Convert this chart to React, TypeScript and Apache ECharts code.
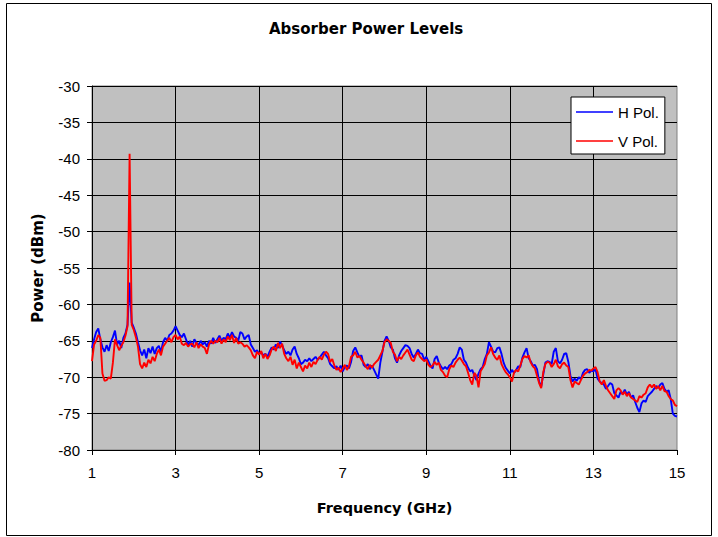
import React, { useEffect, useRef } from "react";
import * as echarts from "echarts";

const titleText = "Absorber Power Levels";
const xAxisTitle = "Frequency (GHz)";
const yAxisTitle = "Power (dBm)";
const seriesNames = ["H Pol.", "V Pol."];
const seriesColors = ["#0000FF", "#FF0000"];

// frequency grid of the traces (GHz)
const freqStartGHz = 1;
const freqEndGHz = 15;
const freqStepGHz = 0.05;
const freqTickStep = 2;

const powerMin = -80;
const powerMax = -30;
const powerStep = 5;

// H Pol. trace, dBm, one value per 0.05 GHz from 1 to 15 GHz
const hPol = [
  -66.0, -64.8, -63.8, -63.3, -64.8, -65.9, -66.5, -65.6, -66.4, -65.2,
  -64.5, -63.6, -65.5, -65.0, -66.0, -64.6, -64.0, -62.8, -57.0, -62.5,
  -63.2, -64.0, -65.2, -66.3, -67.0, -66.2, -67.4, -66.0, -66.7, -65.8,
  -66.8, -66.0, -65.7, -66.5, -65.2, -64.6, -65.0, -64.2, -64.0, -63.6,
  -63.0,
  -63.6, -64.2, -64.5, -64.0, -64.8, -65.6, -65.0, -65.8, -64.8, -65.3,
  -65.6, -65.0, -65.5, -65.2, -65.8, -65.0, -65.4, -64.6, -65.3, -64.8,
  -64.3, -65.0, -64.6, -64.8, -64.0, -64.6, -63.8, -64.4, -64.6, -65.0,
  -63.8, -64.0, -64.8, -64.4, -64.2, -65.5, -66.0, -66.5, -66.3, -66.8,
  -66.6, -67.0, -66.8, -67.2, -66.5, -65.9, -66.2, -65.5, -66.0, -65.1,
  -65.6, -66.3, -66.8, -66.5, -67.0, -66.2, -65.8, -66.8, -67.4, -68.2,
  -68.0, -67.6, -67.8, -67.4, -67.8, -67.5, -67.2, -67.6, -67.3, -66.9,
  -66.5, -67.0, -67.4, -68.2, -68.5, -68.8, -68.5, -69.0, -68.4, -69.2,
  -68.6, -68.4, -68.8, -67.9, -66.4, -65.9, -66.6, -67.2, -67.0, -68.3,
  -68.6, -68.2, -68.9, -68.4, -69.0, -69.6, -70.2, -68.0, -66.5, -65.0,
  -64.4, -65.0, -65.9, -66.2, -67.4, -68.0, -67.0, -66.4, -66.0, -65.6,
  -65.7, -66.0, -66.8, -67.3, -66.8, -66.2, -66.7, -66.8, -67.6, -67.2,
  -67.8, -68.4, -68.8, -67.5, -67.1, -68.0, -68.5, -68.9, -68.6, -68.9,
  -68.4, -68.2, -67.6, -67.4, -66.8, -65.9, -66.2, -67.6, -68.0, -68.7,
  -69.2, -69.0, -69.8, -70.4, -69.5, -68.9, -68.6, -67.5, -66.8, -65.2,
  -65.8, -66.5, -66.6, -66.0, -65.9, -66.8, -68.0, -68.7, -69.1, -69.5,
  -69.0, -69.4, -69.0, -68.5, -68.6, -67.3, -66.6, -66.0, -67.4, -67.8,
  -68.4, -68.3, -68.9, -70.6, -71.3, -69.6, -68.0, -67.8, -67.9, -68.2,
  -66.5, -66.0, -67.8, -68.1, -67.6, -66.8, -66.7, -67.9, -69.8, -70.6,
  -70.2, -70.5, -70.0, -70.3, -69.4, -69.0, -68.9, -69.4, -69.1, -69.2,
  -68.9, -70.2, -70.6, -70.8, -71.0, -71.6, -71.2, -70.8, -71.0, -72.2,
  -72.5, -72.8, -72.0, -72.3, -71.7, -72.4, -72.0, -72.8, -72.5, -73.4,
  -74.2, -74.8, -73.6, -73.2, -73.4, -72.6, -72.3, -72.0, -71.6, -71.2,
  -71.5, -71.0, -70.8, -71.6, -72.0, -71.8, -73.0, -75.0, -75.3, -75.4,
];

// V Pol. trace, dBm, one value per 0.05 GHz from 1 to 15 GHz
const vPol = [
  -67.8, -65.5, -65.0, -64.2, -64.6, -69.5, -70.5, -70.4, -70.0, -70.2,
  -68.0, -64.8, -65.6, -66.3, -65.7, -65.2, -64.3, -63.0, -39.3, -62.8,
  -63.5, -64.5, -65.8, -68.2, -68.8, -68.0, -68.6, -67.6, -68.1, -67.2,
  -67.8, -66.8, -66.2, -67.0, -65.8, -65.4, -65.0, -64.6, -65.2, -64.5,
  -64.2,
  -64.8, -64.4, -65.4, -65.6, -65.3, -65.8, -65.5, -65.4, -65.9, -65.2,
  -66.0, -65.5, -65.8, -66.0, -66.8, -65.5, -65.0, -65.4, -65.0, -65.2,
  -64.6, -65.4, -64.8, -65.2, -64.4, -64.9, -64.2, -65.3, -64.6, -65.4,
  -65.2, -65.4, -65.8, -65.6, -65.9, -66.3, -67.0, -67.4, -66.5, -66.9,
  -66.4, -67.4, -66.8, -67.5, -67.0, -66.2, -65.8, -66.4, -65.3, -66.0,
  -65.4, -66.8, -67.4, -67.8, -67.2, -68.3, -67.6, -68.8, -68.0, -68.6,
  -69.2, -68.4, -68.8, -68.0, -68.6, -67.9, -68.2, -67.6, -67.2, -67.6,
  -66.9, -66.5, -66.8, -67.9, -67.5, -68.4, -69.0, -68.7, -69.3, -68.8,
  -68.3, -69.0, -68.5, -67.2, -67.0, -66.5, -67.3, -67.1, -67.6, -68.0,
  -68.5, -68.9, -68.3, -68.7, -68.2, -67.9, -67.6, -67.0, -66.4, -65.2,
  -64.8, -65.0, -65.3, -66.5, -66.9, -67.8, -67.2, -67.5, -67.0, -66.6,
  -66.2, -66.9, -67.6, -67.8, -67.0, -66.6, -67.2, -67.5, -67.8, -67.6,
  -68.3, -68.6, -68.4, -67.9, -68.3, -68.0, -69.0, -69.3, -69.8, -70.0,
  -68.9, -68.4, -68.6, -68.0, -67.6, -67.3, -67.7, -68.2, -68.5, -69.4,
  -70.4, -71.0, -69.4, -69.8, -71.4, -69.2, -68.7, -68.2, -67.0, -66.6,
  -65.9, -66.8, -67.3, -67.6, -67.0, -68.2, -68.8, -69.3, -69.6, -70.0,
  -70.6, -69.4, -69.0, -69.2, -68.4, -67.5, -67.1, -67.3, -67.0, -68.0,
  -68.5, -68.8, -69.8, -70.8, -71.5, -69.3, -68.2, -67.9, -68.0, -68.6,
  -68.2, -67.6, -68.5, -68.8, -68.2, -68.0, -68.4, -68.6, -70.4, -71.4,
  -70.6, -70.8, -71.0, -70.4, -69.8, -69.5, -69.3, -69.0, -69.1, -68.8,
  -68.6, -69.3, -70.6, -71.0, -70.4, -71.2, -71.8, -72.2, -72.6, -73.0,
  -71.8, -71.5, -71.8, -72.4, -72.0, -72.6, -72.2, -72.8, -73.0, -73.2,
  -73.4, -72.6, -72.8, -72.4, -72.2, -71.4, -71.0, -71.4, -71.0, -71.6,
  -71.2, -71.8, -71.2, -71.9, -72.0, -72.6, -73.0, -73.2, -73.8, -74.0,
];

const sansRegular = "'Liberation Sans', Arial, sans-serif";
const sansBold = "'DejaVu Sans', sans-serif";

export default function App() {
  const ref = useRef<HTMLDivElement>(null);

  useEffect(() => {
    if (!ref.current) return;
    const chart = echarts.init(ref.current, null, { renderer: "svg" });
    // x axis runs in "GHz above the start frequency" so ticks fall on 1, 3, 5 ... 15
    const toPoints = (arr: number[]) =>
      arr.map((v, i) => [Math.round(i * freqStepGHz * 1000) / 1000, v]);

    chart.setOption({
      animation: false,
      backgroundColor: "#ffffff",
      title: {
        text: titleText,
        left: 269,
        top: 21,
        padding: 0,
        textStyle: {
          fontFamily: sansBold,
          fontWeight: "bold",
          fontSize: 15,
          color: "#000",
        },
      },
      legend: {
        orient: "vertical",
        left: 571,
        top: 97,
        padding: [7, 6, 5, 5],
        backgroundColor: "#ffffff",
        borderColor: "#000",
        borderWidth: 1,
        borderRadius: 0,
        itemWidth: 37,
        itemHeight: 1.5,
        itemGap: 13,
        icon: "rect",
        selectedMode: false,
        data: seriesNames,
        textStyle: {
          fontFamily: sansRegular,
          fontSize: 15,
          color: "#000",
          lineHeight: 16,
        },
      },
      grid: {
        left: 92,
        right: 41,
        top: 86,
        bottom: 87,
        show: true,
        backgroundColor: "#C0C0C0",
        borderColor: "#808080",
        borderWidth: 1,
      },
      xAxis: {
        type: "value",
        min: 0,
        max: freqEndGHz - freqStartGHz,
        interval: freqTickStep,
        name: xAxisTitle,
        nameLocation: "middle",
        nameGap: 50,
        nameTextStyle: {
          fontFamily: sansBold,
          fontWeight: "bold",
          fontSize: 14.5,
          color: "#000",
        },
        axisLine: { show: true, onZero: false, lineStyle: { color: "#000", width: 1 } },
        axisTick: { show: true, length: 5, lineStyle: { color: "#000", width: 1 } },
        axisLabel: {
          margin: 15,
          fontFamily: sansRegular,
          fontSize: 15,
          color: "#000",
          formatter: (v: number) => String(Math.round(v + freqStartGHz)),
        },
        splitLine: {
          show: true,
          showMinLine: false,
          showMaxLine: false,
          lineStyle: { color: "#000", width: 1 },
        },
      },
      yAxis: {
        type: "value",
        min: powerMin,
        max: powerMax,
        interval: powerStep,
        name: yAxisTitle,
        nameLocation: "middle",
        nameGap: 47,
        nameTextStyle: {
          fontFamily: sansBold,
          fontWeight: "bold",
          fontSize: 15,
          color: "#000",
        },
        axisLine: { show: true, onZero: false, lineStyle: { color: "#000", width: 1 } },
        axisTick: { show: true, length: 5, lineStyle: { color: "#000", width: 1 } },
        axisLabel: {
          margin: 12,
          fontFamily: sansRegular,
          fontSize: 15,
          color: "#000",
        },
        splitLine: {
          show: true,
          showMinLine: false,
          lineStyle: { color: "#000", width: 1 },
        },
      },
      series: [
        {
          name: seriesNames[0],
          type: "line",
          data: toPoints(hPol),
          showSymbol: false,
          symbol: "none",
          color: seriesColors[0],
          itemStyle: { color: seriesColors[0] },
          lineStyle: { color: seriesColors[0], width: 1.9 },
          z: 2,
        },
        {
          name: seriesNames[1],
          type: "line",
          data: toPoints(vPol),
          showSymbol: false,
          symbol: "none",
          color: seriesColors[1],
          itemStyle: { color: seriesColors[1] },
          lineStyle: { color: seriesColors[1], width: 1.9 },
          z: 3,
        },
      ],
      graphic: [
        {
          type: "rect",
          silent: true,
          shape: { x: 6.5, y: 3.5, width: 705, height: 532 },
          style: { fill: "none", stroke: "#000", lineWidth: 1 },
        },
      ],
    });

    return () => chart.dispose();
  }, []);

  return (
    <div
      ref={ref}
      style={{
        position: "absolute",
        left: 0,
        top: 0,
        width: 718,
        height: 537,
        background: "#fff",
      }}
    />
  );
}
